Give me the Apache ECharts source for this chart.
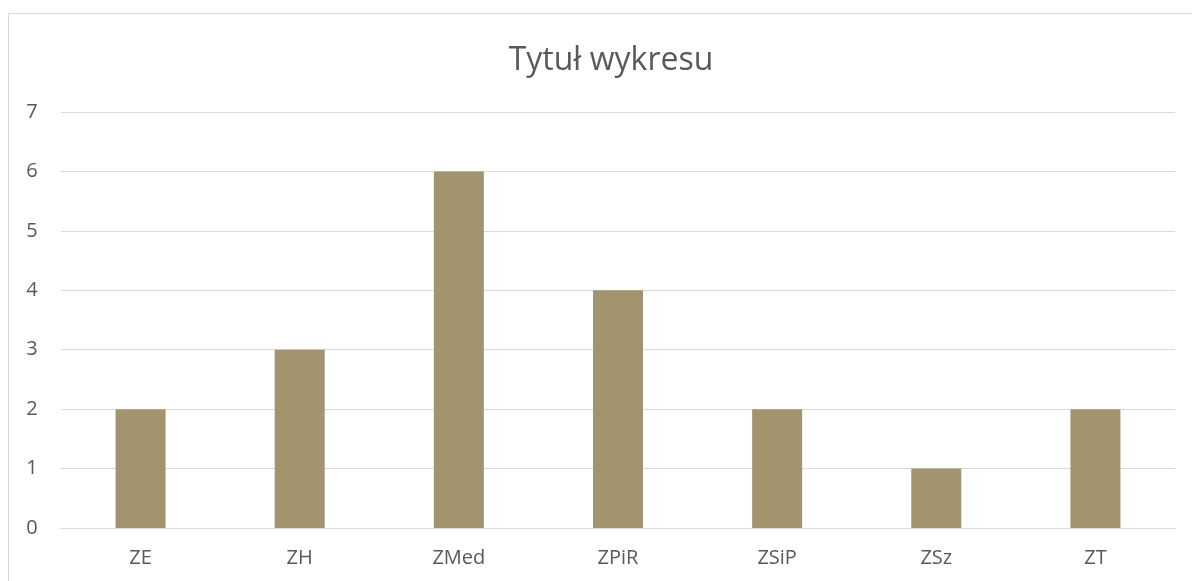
<!DOCTYPE html>
<html>
<head>
<meta charset="utf-8">
<script src="https://cdn.jsdelivr.net/npm/echarts@6/dist/echarts.min.js"></script>
<style>
html,body{margin:0;padding:0;background:#fff;}
#chart{width:1192px;height:581px;}
</style>
</head>
<body>
<div id="chart"></div>
<script>
const categories = ['ZE', 'ZH', 'ZMed', 'ZPiR', 'ZSiP', 'ZSz', 'ZT'];
const values = [2, 3, 6, 4, 2, 1, 2];
const chartTitle = 'Tytuł wykresu';

const chart = echarts.init(document.getElementById('chart'));
const font = '"Open Sans", "Liberation Sans", sans-serif';
chart.setOption({
  animation: false,
  title: {
    text: chartTitle,
    left: 606,
    textAlign: 'center',
    top: 40,
    textStyle: { fontFamily: font, fontSize: 32, fontWeight: 'normal', color: '#595959' }
  },
  graphic: [{
    type: 'rect',
    shape: { x: 8.5, y: 13.5, width: 1220, height: 620 },
    style: { fill: 'none', stroke: '#d9d9d9', lineWidth: 1 },
    silent: true
  }],
  grid: { left: 61, right: 17, top: 112, bottom: 53, containLabel: false },
  xAxis: {
    type: 'category',
    data: categories,
    axisLine: { show: true, lineStyle: { color: '#d9d9d9', width: 1 } },
    axisTick: { show: false },
    axisLabel: { fontFamily: font, fontSize: 20, color: '#595959', margin: 20 }
  },
  yAxis: {
    type: 'value',
    min: 0, max: 7, interval: 1,
    axisLine: { show: false },
    axisTick: { show: false },
    splitLine: { lineStyle: { color: '#d9d9d9', width: 1 } },
    axisLabel: { fontFamily: font, fontSize: 20, color: '#595959', margin: 29, align: 'center' }
  },
  series: [{
    type: 'bar',
    data: values,
    barWidth: 50,
    itemStyle: { color: '#A39470' }
  }]
});
</script>
</body>
</html>
